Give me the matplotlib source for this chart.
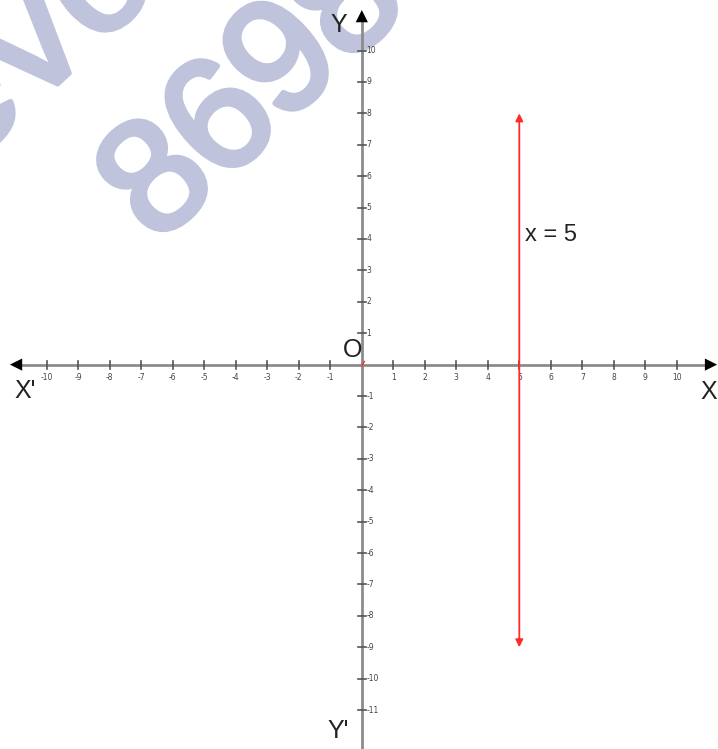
import numpy as np
import matplotlib.pyplot as plt
import matplotlib.patheffects as pe

# data
x_ticks = [-10, -9, -8, -7, -6, -5, -4, -3, -2, -1, 1, 2, 3, 4, 5, 6, 7, 8, 9, 10]
y_ticks = [10, 9, 8, 7, 6, 5, 4, 3, 2, 1, -1, -2, -3, -4, -5, -6, -7, -8, -9, -10, -11]
line_x = 5
line_y = [-9, 8]
line_label = "x = 5"

plt.rcParams['font.family'] = ['Liberation Sans', 'DejaVu Sans']

fig = plt.figure(figsize=(7.18, 7.49), dpi=100)
fig.patch.set_facecolor('white')

# watermark (figure pixels, drawn behind the axes)
wm_color = '#bfc3db'
wm_chars = "8698" + "eVo"
wm_pos = [(161, 185), (225, 125), (287, 65), (351, 6),
          (-31, 109), (35, 48), (101, -13)]
for ch, (px, py) in zip(wm_chars, wm_pos):
    fig.text(px / 718, 1 - py / 749, ch, rotation=43, rotation_mode='anchor',
             ha='center', va='center', fontsize=116,
             color=wm_color, zorder=-1,
             path_effects=[pe.withStroke(linewidth=4, foreground=wm_color)])

ax = fig.add_axes([0, 0, 1, 1])
ax.patch.set_alpha(0)
ax.set_xlim(-11.486, 11.308)
ax.set_ylim(-12.24, 11.61)
ax.axis('off')

axis_col = '#8c8c8c'
tick_col = '#555555'

# axes lines
ax.plot([-11.0, 11.1], [0, 0], color=axis_col, lw=2, zorder=2)
ax.plot([0, 0], [-12.4, 11.0], color=axis_col, lw=2, zorder=2)

# arrow heads of axes
head = dict(arrowstyle='-|>', color='black', lw=0, mutation_scale=22,
            shrinkA=0, shrinkB=0)
ax.annotate('', xy=(-11.17, 0), xytext=(-10.5, 0), arrowprops=head)
ax.annotate('', xy=(11.28, 0), xytext=(10.6, 0), arrowprops=head)
ax.annotate('', xy=(0, 11.29), xytext=(0, 10.6), arrowprops=head)
ax.annotate('', xy=(0, -12.28), xytext=(0, -11.6), arrowprops=head)

# ticks and labels
for t in x_ticks:
    ax.plot([t, t], [-0.13, 0.13], color=tick_col, lw=1.2, zorder=3)
    ax.text(t, -0.4, str(t), ha='center', va='center', fontsize=5.5,
            color='#444444', family='DejaVu Sans')
for t in y_ticks:
    ax.plot([-0.13, 0.13], [t, t], color=tick_col, lw=1.2, zorder=3)
    ax.text(0.14, t, str(t), ha='left', va='center', fontsize=5.5,
            color='#444444', family='DejaVu Sans')

# red line x = 5
ax.annotate('', xy=(line_x, line_y[1]), xytext=(line_x, line_y[0]),
            arrowprops=dict(arrowstyle='<|-|>', color='#ff2a2a', lw=1.3,
                            mutation_scale=11, shrinkA=0, shrinkB=0),
            zorder=4)
ax.text(line_x + 0.19, 4.13, line_label, ha='left', va='center', fontsize=17,
        color='#222222')

# small red mark at origin
ax.plot([0, 0.08], [-0.04, 0.1], color='#ff2a2a', lw=1, zorder=4)

# axis names
ax.text(-0.72, 10.81, 'Y', ha='center', va='center', fontsize=18, color='#222222')
ax.text(-0.76, -11.67, "Y'", ha='center', va='center', fontsize=18, color='#222222')
ax.text(-10.69, -0.84, "X'", ha='center', va='center', fontsize=18, color='#222222')
ax.text(11.03, -0.87, 'X', ha='center', va='center', fontsize=18, color='#222222')
ax.text(-0.28, 0.46, 'O', ha='center', va='center', fontsize=18, color='#222222')

fig.savefig('out.png', dpi=100)
